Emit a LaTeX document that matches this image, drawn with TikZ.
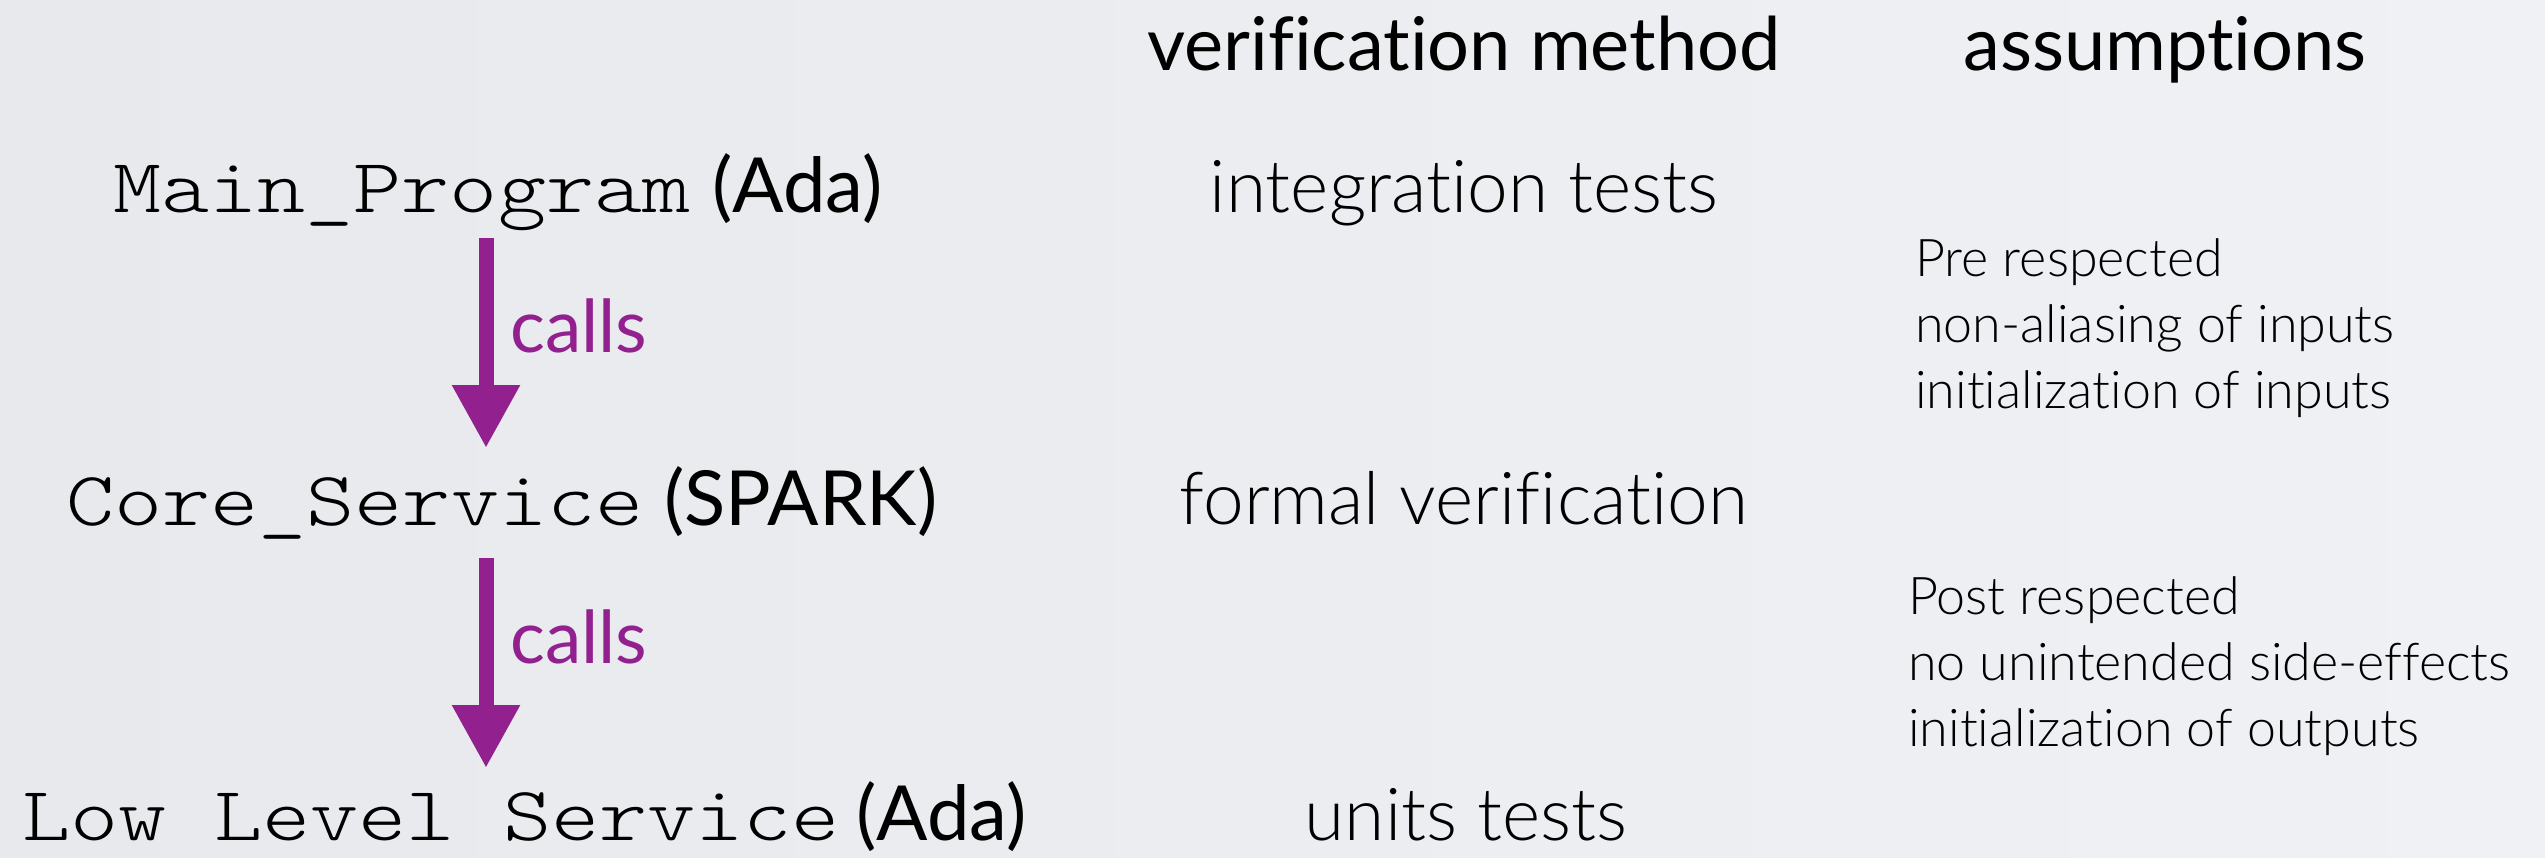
\documentclass[tikz,border=0pt]{standalone}
\usepackage{fontspec}
\setmainfont{Lato}[Ligatures={NoCommon,NoContextual}]
\newfontfamily\lightfont{Lato Light}[Ligatures={NoCommon,NoContextual}]
\newfontfamily\codefont{lmmonolt10-regular.otf}[FakeStretch=1.19]
\usetikzlibrary{arrows.meta}
\definecolor{bgL}{RGB}{232,233,237}
\definecolor{bgR}{RGB}{240,241,244}
\definecolor{callpurple}{RGB}{146,32,143}
\tikzset{
  monotext/.style={anchor=base west, inner sep=0pt, font=\codefont\fontsize{77}{90}\selectfont},
  langtext/.style={anchor=base west, inner sep=0pt, font=\fontsize{76}{90}\selectfont},
  headtext/.style={anchor=base, inner sep=0pt, font=\fontsize{74}{88}\selectfont},
  methodtext/.style={anchor=base, inner sep=0pt, font=\lightfont\fontsize{73}{88}\selectfont},
  assumtext/.style={anchor=base west, inner sep=0pt, font=\lightfont\fontsize{52}{66}\selectfont},
  callstext/.style={anchor=base west, inner sep=0pt, text=callpurple, font=\fontsize{73}{88}\selectfont},
  callarrow/.style={draw=callpurple, line width=15pt, -{Triangle[length=63pt,width=64pt]}}
}
\begin{document}
\begin{tikzpicture}[x=1pt,y=-1pt]
\shade[left color=bgL, right color=bgR] (0,0) rectangle (2545,857);
\useasboundingbox (0,0) rectangle (2545,857);
% headers
\node[headtext] (hv) at (1464,70) {verification method};
\node[headtext] (ha) at (2165,70) {assumptions};
% left column
\node[monotext] (mp) at (113,212) {Main\_Program};
\node[langtext] (mpl) at (712,212) {(Ada)};
\node[monotext] (cs) at (66,525) {Core\_Service};
\node[langtext] (csl) at (664,525) {(SPARK)};
\node[monotext] (ll) at (22,840) {Low Level Service};
\node[langtext] (lll) at (856,840) {(Ada)};
% arrows
\coordinate (a1s) at (486,238);
\coordinate (a1e) at (486,448);
\coordinate (a2s) at (486,558);
\coordinate (a2e) at (486,768);
\draw[callarrow] (a1s) -- (a1e);
\draw[callarrow] (a2s) -- (a2e);
\node[callstext] (c1) at (510,352) {calls};
\node[callstext] (c2) at (510,663) {calls};
% methods
\node[methodtext] (m1) at (1464,212) {integration tests};
\node[methodtext] (m2) at (1464,524) {formal verification};
\node[methodtext] (m3) at (1466,840) {units tests};
% assumptions
\node[assumtext] (pre1) at (1915,276) {Pre respected};
\node[assumtext] (pre2) at (1915,342) {non-aliasing of inputs};
\node[assumtext] (pre3) at (1915,408) {initialization of inputs};
\node[assumtext] (post1) at (1908,614) {Post respected};
\node[assumtext] (post2) at (1908,680) {no unintended side-effects};
\node[assumtext] (post3) at (1908,746) {initialization of outputs};
\end{tikzpicture}
\end{document}
